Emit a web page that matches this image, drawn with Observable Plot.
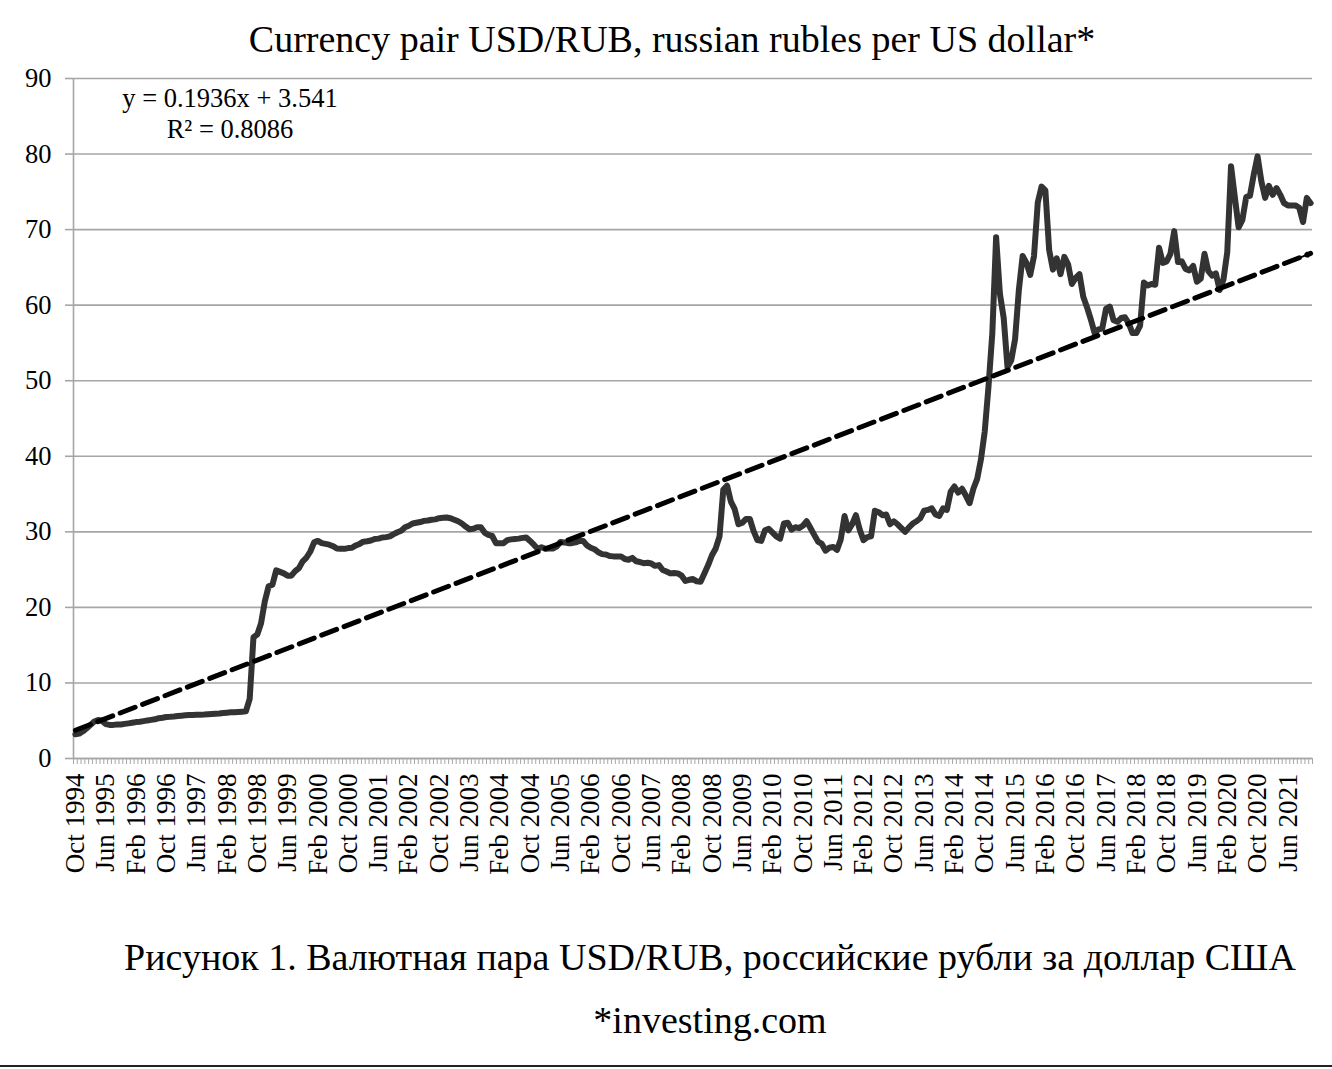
<!DOCTYPE html>
<html>
<head>
<meta charset="utf-8">
<script src="https://cdn.jsdelivr.net/npm/d3@7"></script>
<script src="https://cdn.jsdelivr.net/npm/@observablehq/plot@0.6"></script>
<style>
  html, body { margin: 0; padding: 0; background: #fff; }
  body { width: 1332px; height: 1069px; position: relative; overflow: hidden;
         font-family: "Liberation Serif", "Times New Roman", serif; color: #000; }
  #title { position: absolute; left: 0; width: 1344px; top: 20px; text-align: center;
           font-size: 38px; line-height: 38px; white-space: nowrap; }
  #chart { position: absolute; left: 0; top: 60px; }
  #eq { position: absolute; left: 100px; width: 260px; top: 83px; text-align: center;
        font-size: 26.5px; line-height: 31px; white-space: nowrap; }
  #caption { position: absolute; left: 0; width: 1420px; top: 938px; text-align: center;
             font-size: 38px; line-height: 38px; white-space: nowrap; }
  #source { position: absolute; left: 0; width: 1420px; top: 1001px; text-align: center;
            font-size: 38px; line-height: 38px; white-space: nowrap; }
  #rule { position: absolute; left: 0; width: 1332px; top: 1065px; height: 2px; background: #222; }
</style>
</head>
<body>
<div id="title">Currency pair USD/RUB, russian rubles per US dollar*</div>
<div id="chart"></div>
<div id="eq">y = 0.1936x + 3.541<br>R² = 0.8086</div>
<div id="caption">Рисунок 1. Валютная пара USD/RUB, российские рубли за доллар США</div>
<div id="source">*investing.com</div>
<div id="rule"></div>
<script>
// Monthly USD/RUB, first value = Oct 1994, last value = Dec 2021
const firstMonth = "Oct 1994";
const usdRub = [
  // 1994 (Oct-Dec)
  3.2, 3.3, 3.6,
  // 1995
  4.0, 4.45, 4.9, 5.1, 5.0, 4.55, 4.45, 4.45, 4.5, 4.5, 4.58, 4.65,
  // 1996
  4.73, 4.82, 4.87, 4.95, 5.04, 5.11, 5.19, 5.34, 5.4, 5.5, 5.52, 5.56,
  // 1997
  5.63, 5.67, 5.72, 5.76, 5.77, 5.78, 5.79, 5.81, 5.86, 5.89, 5.92, 5.96,
  // 1998
  6.03, 6.07, 6.11, 6.13, 6.16, 6.2, 6.24, 7.9, 16.06, 16.4, 17.9, 20.8,
  // 1999
  22.8, 23.0, 24.9, 24.7, 24.5, 24.2, 24.2, 24.8, 25.2, 26.1, 26.6, 27.4,
  // 2000
  28.6, 28.8, 28.5, 28.4, 28.3, 28.1, 27.8, 27.75, 27.75, 27.85, 27.9, 28.2,
  // 2001
  28.4, 28.7, 28.75, 28.85, 29.05, 29.1, 29.25, 29.3, 29.4, 29.7, 29.95, 30.15,
  // 2002
  30.6, 30.8, 31.1, 31.2, 31.3, 31.45, 31.5, 31.6, 31.65, 31.8, 31.85, 31.9,
  // 2003
  31.8, 31.6, 31.4, 31.1, 30.7, 30.35, 30.4, 30.6, 30.6, 29.9, 29.6, 29.45,
  // 2004
  28.5, 28.5, 28.5, 28.9, 29.0, 29.05, 29.1, 29.2, 29.25, 28.8, 28.3, 27.75,
  // 2005
  27.95, 27.75, 27.8, 27.8, 28.05, 28.65, 28.6, 28.5, 28.5, 28.6, 28.8, 28.8,
  // 2006
  28.2, 27.9, 27.7, 27.3, 27.05, 27.0, 26.8, 26.75, 26.75, 26.75, 26.4, 26.3,
  // 2007
  26.55, 26.1, 26.0, 25.85, 25.9, 25.8, 25.5, 25.6, 24.95, 24.75, 24.5, 24.55,
  // 2008
  24.5, 24.2, 23.5, 23.65, 23.75, 23.45, 23.4, 24.5, 25.6, 26.9, 27.8, 29.4,
  // 2009
  35.6, 36.1, 34.0, 33.0, 31.0, 31.2, 31.7, 31.7, 30.1, 28.9, 28.8, 30.2,
  // 2010
  30.4, 29.9, 29.4, 29.1, 31.1, 31.2, 30.3, 30.6, 30.5, 30.8, 31.4, 30.5,
  // 2011
  29.6, 28.7, 28.4, 27.5, 27.9, 28.0, 27.6, 29.0, 32.1, 30.2, 31.0, 32.2,
  // 2012
  30.3, 28.9, 29.3, 29.4, 32.8, 32.6, 32.2, 32.3, 31.0, 31.4, 31.0, 30.5,
  // 2013
  30.0, 30.6, 31.1, 31.4, 31.8, 32.8, 32.9, 33.1, 32.3, 32.1, 33.1, 32.9,
  // 2014
  35.3, 36.0, 35.2, 35.7, 34.8, 33.8, 35.7, 37.0, 39.6, 43.3, 49.3, 56.3,
  // 2015
  69.0, 61.5, 58.3, 51.8, 52.7, 55.5, 62.0, 66.5, 65.6, 64.0, 66.5, 73.6,
  // 2016
  75.7, 75.2, 67.3, 64.7, 66.2, 64.1, 66.4, 65.4, 62.8, 63.6, 64.1, 61.1,
  // 2017
  59.7, 58.1, 56.3, 56.8, 56.9, 59.5, 59.8, 58.0, 57.8, 58.3, 58.4, 57.6,
  // 2018
  56.3, 56.3, 57.3, 63.0, 62.6, 62.8, 62.7, 67.6, 65.6, 65.8, 66.8, 69.8,
  // 2019
  65.7, 65.8, 64.8, 64.6, 65.2, 63.1, 63.5, 66.8, 64.5, 63.9, 64.2, 62.0,
  // 2020
  63.4, 67.0, 78.4, 74.3, 70.3, 71.3, 74.3, 74.5, 77.3, 79.7, 76.4, 74.2,
  // 2021
  75.8, 74.6, 75.5, 74.6, 73.5, 73.2, 73.2, 73.2, 72.9, 71.0, 74.2, 73.5
];

// x-axis labels (one every 8 months, starting at the first month)
const tickEvery = 8;
const tickLabels = [
  "Oct 1994", "Jun 1995", "Feb 1996", "Oct 1996", "Jun 1997", "Feb 1998", "Oct 1998",
  "Jun 1999", "Feb 2000", "Oct 2000", "Jun 2001", "Feb 2002", "Oct 2002", "Jun 2003",
  "Feb 2004", "Oct 2004", "Jun 2005", "Feb 2006", "Oct 2006", "Jun 2007", "Feb 2008",
  "Oct 2008", "Jun 2009", "Feb 2010", "Oct 2010", "Jun 2011", "Feb 2012", "Oct 2012",
  "Jun 2013", "Feb 2014", "Oct 2014", "Jun 2015", "Feb 2016", "Oct 2016", "Jun 2017",
  "Feb 2018", "Oct 2018", "Jun 2019", "Feb 2020", "Oct 2020", "Jun 2021"
];
const yTicks = [0, 10, 20, 30, 40, 50, 60, 70, 80, 90];

// Linear trend shown on the chart: y = 0.1936x + 3.541 (x = 1..N)
const trendSlope = 0.1936;
const trendIntercept = 3.541;

const N = usdRub.length;
const data = usdRub.map((v, i) => ({i, v}));
const trendAt = (i) => trendSlope * (i + 1) + trendIntercept;
const trend = [0, N - 1].map(i => ({i, v: trendAt(i)}));
const arrowSeg = [{x1: N - 4, y1: trendAt(N - 4), x2: N - 1, y2: trendAt(N - 1)}];

const grid = "#a6a6a6";
const chart = Plot.plot({
  width: 1332,
  height: 828,
  marginTop: 18,
  marginBottom: 130,
  marginLeft: 73,
  marginRight: 20,
  style: {fontFamily: "'Liberation Serif', 'Times New Roman', serif", fontSize: "26px", color: "#000", background: "transparent", overflow: "visible"},
  x: {type: "linear", domain: [-0.5, N - 0.5], label: null},
  y: {domain: [0, 90], label: null},
  marks: [
    Plot.gridY(yTicks, {stroke: grid, strokeOpacity: 1, strokeWidth: 1.6}),
    Plot.axisY(yTicks, {tickSize: 8, tickPadding: 14, stroke: grid, strokeOpacity: 1, strokeWidth: 1.6, label: null, fontSize: 26.5, fill: "#000"}),
    Plot.ruleX([-0.5], {stroke: grid, strokeWidth: 1.6}),
    Plot.axisX(d3.range(N + 1).map(k => k - 0.5), {tickSize: 6, tickFormat: () => "", stroke: grid, strokeOpacity: 1, strokeWidth: 1, label: null}),
    Plot.ruleY([0], {stroke: grid, strokeWidth: 1.6}),
    Plot.axisX(tickLabels.map((_, k) => k * tickEvery), {
      tickSize: 0, tickPadding: 15, tickRotate: -90, label: null, fontSize: 27, fill: "#000",
      tickFormat: d => tickLabels[Math.round(d / tickEvery)]
    }),
    Plot.line(data, {x: "i", y: "v", stroke: "#333", strokeWidth: 6, strokeLinejoin: "round", strokeLinecap: "round"}),
    Plot.line(trend, {x: "i", y: "v", stroke: "#000", strokeWidth: 5, strokeDasharray: "16,8"}),
    Plot.arrow(arrowSeg, {x1: "x1", y1: "y1", x2: "x2", y2: "y2", stroke: "#000", strokeWidth: 2, headLength: 11})
  ]
});
document.getElementById("chart").appendChild(chart);
</script>
</body>
</html>
